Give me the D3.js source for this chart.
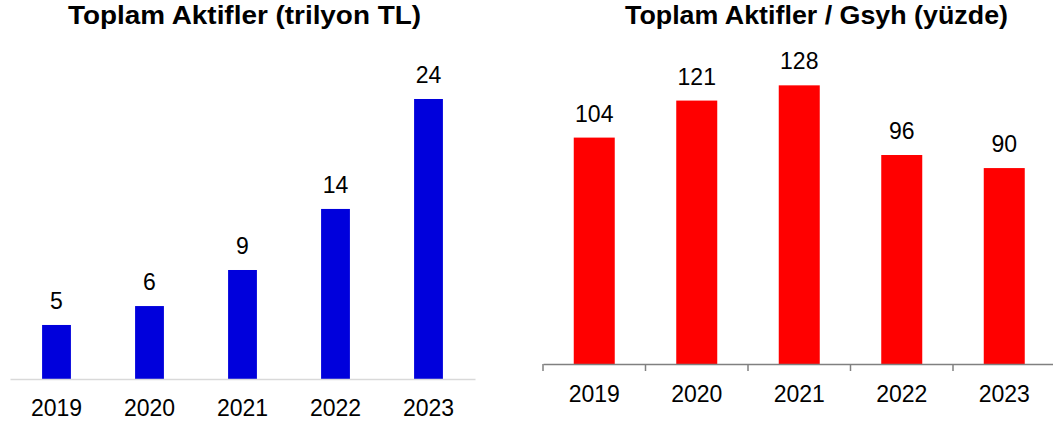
<!DOCTYPE html>
<html lang="tr">
<head>
<meta charset="UTF-8">
<title>Toplam Aktifler</title>
<style>
    body { margin: 0; background: #fff; }
    svg text { font-family: "Liberation Sans", Arial, sans-serif; fill: #000; }
</style>
</head>
<body>
<div id="chart"></div>
<script src="https://d3js.org/d3.v7.min.js"></script>
<script>
var years = ["2019", "2020", "2021", "2022", "2023"];
var assets = [4.54, 6.13, 9.16, 14.29, 23.53];      // trilyon TL
var assetsGdp = [104, 121, 128, 96, 90];             // yüzde
var titleLeft = "Toplam Aktifler (trilyon TL)";
var titleRight = "Toplam Aktifler / Gsyh (yüzde)";

var width = 1053, height = 426;
var fmt = d3.format(".0f");
var fontSize = "23px";

var svg = d3.select("#chart").append("svg")
    .attr("width", width)
    .attr("height", height);

// ---- left panel
var base1 = 379;
var x1 = d3.scaleBand().domain(years).range([10, 475])
    .paddingInner(0.69).paddingOuter(0.345);
var y1 = d3.scaleLinear().domain([0, 25]).range([base1, base1 - 25 * 11.9]);

var g1 = svg.append("g");
g1.selectAll("rect").data(assets).enter().append("rect")
    .attr("x", function(d, i){ return x1(years[i]); })
    .attr("y", function(d){ return y1(d); })
    .attr("width", x1.bandwidth())
    .attr("height", function(d){ return base1 - y1(d); })
    .style("fill", "#0000dc");

g1.selectAll("text.val").data(assets).enter().append("text")
    .attr("class", "val")
    .attr("x", function(d, i){ return x1(years[i]) + x1.bandwidth() / 2; })
    .attr("y", function(d){ return y1(d) - 16; })
    .attr("text-anchor", "middle")
    .style("font-size", fontSize)
    .text(function(d){ return fmt(d); });

var ax1 = g1.append("g")
    .attr("transform", "translate(0," + base1 + ")")
    .call(d3.axisBottom(x1).tickSize(0).tickPadding(0));
ax1.select(".domain").attr("stroke", "#d9d9d9").attr("stroke-width", 1.5);
ax1.selectAll("text")
    .attr("dy", null).attr("y", 37)
    .style("font-size", fontSize)
    .style("font-family", "'Liberation Sans', Arial, sans-serif")
    .attr("fill", "#000");

svg.append("text")
    .attr("x", 68).attr("y", 24)
    .attr("textLength", 353).attr("lengthAdjust", "spacingAndGlyphs")
    .style("font-size", "26px").style("font-weight", "bold")
    .text(titleLeft);

// ---- right panel
var base2 = 364;
var x2 = d3.scaleBand().domain(years).range([543, 1055.5])
    .paddingInner(0.6).paddingOuter(0.3);
var y2 = d3.scaleLinear().domain([0, 140]).range([base2, base2 - 140 * 2.177]);

var g2 = svg.append("g");
g2.selectAll("rect").data(assetsGdp).enter().append("rect")
    .attr("x", function(d, i){ return x2(years[i]); })
    .attr("y", function(d){ return y2(d); })
    .attr("width", x2.bandwidth())
    .attr("height", function(d){ return base2 - y2(d); })
    .style("fill", "#ff0000");

g2.selectAll("text.val").data(assetsGdp).enter().append("text")
    .attr("class", "val")
    .attr("x", function(d, i){ return x2(years[i]) + x2.bandwidth() / 2; })
    .attr("y", function(d){ return y2(d) - 16; })
    .attr("text-anchor", "middle")
    .style("font-size", fontSize)
    .text(function(d){ return fmt(d); });

var ax2 = g2.append("g")
    .attr("transform", "translate(0," + base2 + ")")
    .call(d3.axisBottom(x2).tickSize(0).tickPadding(0));
ax2.select(".domain").attr("stroke", "#808080").attr("stroke-width", 1.5);
ax2.selectAll("text")
    .attr("dy", null).attr("y", 38)
    .style("font-size", fontSize)
    .style("font-family", "'Liberation Sans', Arial, sans-serif")
    .attr("fill", "#000");

// category separators (ticks between bands)
var edges = years.map(function(d){ return x2(d) - x2.step() * x2.paddingInner() / 2; });
edges.push(x2.range()[1]);
g2.selectAll("line.sep").data(edges).enter().append("line")
    .attr("class", "sep")
    .attr("x1", function(d){ return d; }).attr("x2", function(d){ return d; })
    .attr("y1", base2).attr("y2", base2 + 7)
    .attr("stroke", "#808080").attr("stroke-width", 1.5);

svg.append("text")
    .attr("x", 625).attr("y", 24)
    .attr("textLength", 383).attr("lengthAdjust", "spacingAndGlyphs")
    .style("font-size", "26px").style("font-weight", "bold")
    .text(titleRight);
</script>
</body>
</html>
